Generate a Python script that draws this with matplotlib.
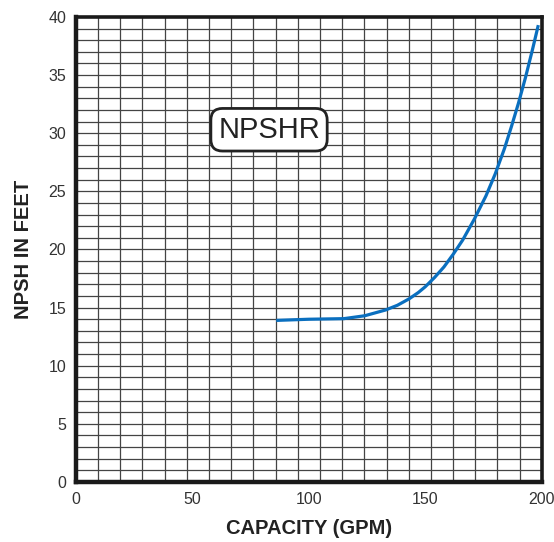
import numpy as np
import matplotlib.pyplot as plt

plt.rcParams['font.family'] = ['Liberation Sans', 'DejaVu Sans']

# NPSHR curve
capacity = [86, 100, 115, 124, 133, 138, 143, 147, 150, 154, 158, 162, 166, 171, 176, 180, 184, 187, 190, 193, 196, 198.5]
npshr = [13.9, 14.0, 14.05, 14.3, 14.8, 15.2, 15.75, 16.3, 16.8, 17.6, 18.5, 19.6, 20.8, 22.6, 24.6, 26.5, 28.7, 30.6, 32.6, 34.8, 37.2, 39.3]

x_ticks = [0, 50, 100, 150, 200]
y_ticks = [0, 5, 10, 15, 20, 25, 30, 35, 40]

fig = plt.figure(figsize=(5.54, 5.42), dpi=100)
ax = fig.add_axes([0.137, 0.1107, 0.841, 0.858])

# grid: 21 columns across the width, one row per foot
for gx in np.arange(1, 21) * 200 / 21:
    ax.axvline(gx, color='#444444', lw=0.9, zorder=1)
for gy in range(1, 40):
    ax.axhline(gy, color='#444444', lw=0.9, zorder=1)

ax.plot(capacity, npshr, color='#0a6fbf', lw=2.3, zorder=3, solid_capstyle='butt')

ax.set_xlim(0, 200)
ax.set_ylim(0, 40)
ax.set_xticks(x_ticks)
ax.set_yticks(y_ticks)
ax.tick_params(length=0, labelsize=11.5, pad=7, colors='#333333')

for s in ['left', 'bottom']:
    ax.spines[s].set_linewidth(3.2)
for s in ['top', 'right']:
    ax.spines[s].set_linewidth(2.6)
for s in ax.spines.values():
    s.set_color('#1a1a1a')
    s.set_zorder(4)

ax.set_xlabel('CAPACITY (GPM)', fontsize=14.5, fontweight='bold', labelpad=9, color='#222222')
ax.set_ylabel('NPSH IN FEET', fontsize=14.5, fontweight='bold', labelpad=11, color='#222222')

ax.text(82.9, 30.3, 'NPSHR', fontsize=21, ha='center', va='center', zorder=5, color='#222222',
        bbox=dict(boxstyle='round,pad=0.25,rounding_size=0.4', fc='white', ec='#222222', lw=2))

fig.savefig('out.png', dpi=100)
